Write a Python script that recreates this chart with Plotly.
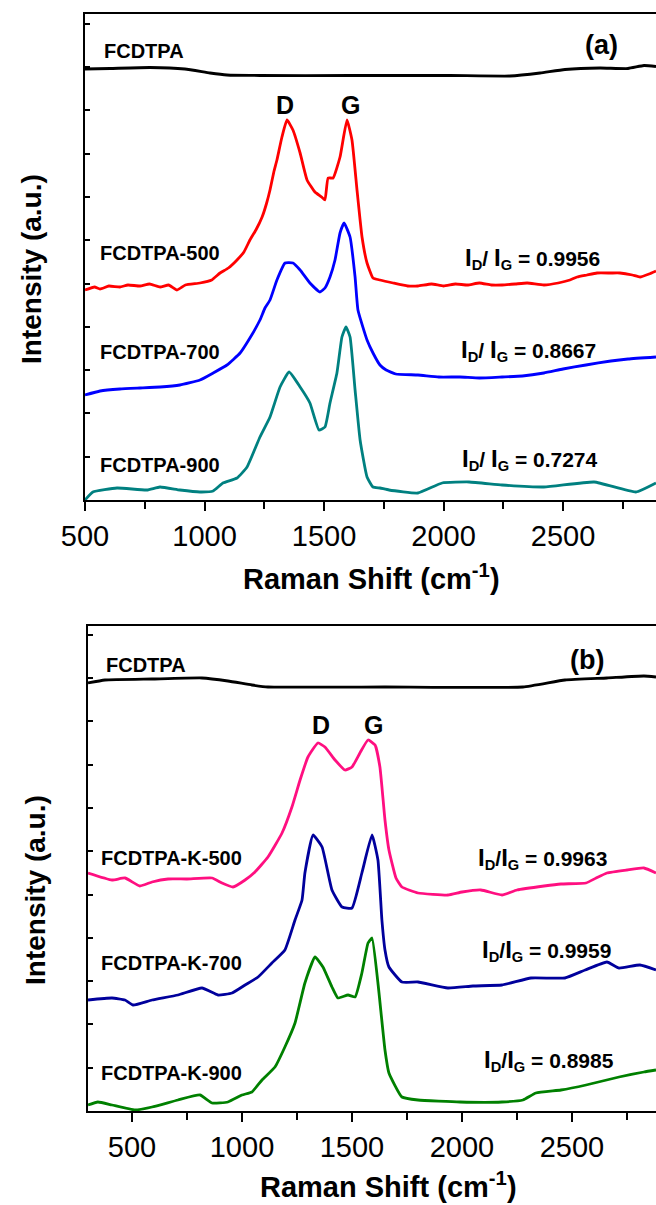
import plotly.graph_objects as go

W, H = 656, 1205

# ---------------- data (Raman shift cm^-1, intensity a.u.) ----------------
# Panel (a)
a_fcdtpa = [(500,431),(605,431.5),(772,432.5),(918,431),(1023,427),(1094,425),(1232,424.5),
            (1609,424.5),(2027,424.5),(2278,424),(2404,427),(2508,430.5),(2655,432),(2772,431.5),
            (2839,434.5),(2889,433.5)]
a_500 = [(500,210),(540,213),(563,211),(600,214),(646,213),(680,215),(730,214),(770,216),(814,213),
         (850,215),(885,210),(920,215),(981,217),(1030,220),(1065,227),(1100,232),(1136,240),(1165,248),
         (1190,260),(1215,270),(1241,283),(1260,297),(1274,310),(1290,328),(1303,340),(1324,363),
         (1345,380),(1370,370),(1400,347),(1429,320),(1462,308),(1490,303),(1504,300),(1517,322),
         (1538,322),(1567,343),(1596,380),(1617,360),(1638,310),(1659,263),(1680,237),(1705,222),
         (1734,220),(1789,217),(1850,214),(1893,214),(1950,216),(2000,214),(2050,216),(2100,215),
         (2150,217),(2200,215),(2245,215),(2300,216),(2350,217),(2420,215),(2480,217),(2529,220),
         (2559,223),(2600,225),(2642,227),(2700,227),(2738,227),(2790,225),(2822,223),(2860,226),(2889,229)]
a_700 = [(500,105),(563,109),(646,111),(730,112),(814,113),(897,115),(981,120),(1036,127),(1094,135),
         (1149,147),(1190,162),(1232,180),(1253,192),(1274,200),(1303,220),(1337,237),(1370,237),
         (1400,230),(1441,217),(1483,208),(1504,212),(1525,223),(1546,240),(1567,267),(1584,277),
         (1609,263),(1630,223),(1642,190),(1680,160),(1705,147),(1734,135),(1760,130),(1800,126),
         (1893,125),(1980,123),(2069,123),(2150,122),(2245,123),(2330,124),(2420,127),(2500,131),
         (2596,135),(2700,139),(2772,141),(2889,143)]
a_900 = [(500,0),(533,8),(634,12),(759,10),(814,13),(897,10),(981,8),(1036,9),(1077,17),(1136,22),
         (1178,33),(1232,63),(1274,83),(1316,113),(1354,128),(1400,113),(1441,97),(1479,70),(1504,73),
         (1525,97),(1554,127),(1575,163),(1592,173),(1609,163),(1630,110),(1651,60),(1680,23),(1705,13),
         (1734,12),(1772,10),(1893,7),(1994,17),(2107,18),(2245,15),(2420,13),(2630,18),(2805,8),(2889,17)]

# Panel (b)
b_fcdtpa = [(300,428),(377,431),(591,432),(818,433),(936,430),(1045,426),(1118,424),(1650,424),
            (2277,424),(2468,431),(2659,433),(2827,435),(2882,434)]
b_k500 = [(300,238),(409,231),(468,233),(536,225),(591,229),(664,232),(750,232),(864,233),(909,228),
          (959,224),(1014,231),(1059,239),(1118,254),(1182,278),(1227,304),(1264,331),(1300,354),
          (1345,368),(1377,364),(1423,351),(1468,341),(1500,344),(1536,358),(1573,371),(1605,366),
          (1627,344),(1650,291),(1668,261),(1700,233),(1727,224),(1800,218),(1936,216),(2000,219),
          (2086,221),(2182,216),(2250,221),(2373,225),(2450,227),(2564,228),(2610,233),(2659,238),
          (2750,241),(2827,243),(2882,238)]
b_k700 = [(300,111),(409,113),(468,111),(505,106),(591,111),(709,116),(818,123),(891,116),(955,118),
          (1014,126),(1073,134),(1136,148),(1195,161),(1241,191),(1273,211),(1286,238),(1323,276),
          (1364,264),(1409,221),(1455,204),(1500,203),(1545,238),(1591,276),(1618,251),(1636,191),
          (1650,161),(1668,144),(1727,129),(1800,129),(1936,123),(2050,125),(2182,126),(2314,133),
          (2468,133),(2560,141),(2659,149),(2714,143),(2809,146),(2882,141)]
b_k900 = [(300,6),(345,9),(409,6),(514,1),(591,4),(709,11),(809,16),(864,8),(936,9),(1000,16),
          (1045,19),(1091,31),(1150,44),(1195,64),(1241,88),(1286,128),(1332,154),(1368,144),(1409,124),
          (1436,113),(1482,116),(1514,114),(1545,138),(1573,168),(1591,173),(1618,128),(1650,61),
          (1668,38),(1727,14),(1800,11),(1991,9),(2182,9),(2277,11),(2336,18),(2450,21),(2564,26),
          (2714,34),(2827,39),(2882,41)]

x_ticks = [500, 1000, 1500, 2000, 2500]
ratios_a = ["0.9956", "0.8667", "0.7274"]
ratios_b = ["0.9963", "0.9959", "0.8985"]
names_a = ["FCDTPA-500", "FCDTPA-700", "FCDTPA-900"]
names_b = ["FCDTPA-K-500", "FCDTPA-K-700", "FCDTPA-K-900"]

FONT = "Liberation Sans, Arial, sans-serif"

def px(x):
    return x / W

def py(y):
    return 1 - y / H

fig = go.Figure()

def add(series, color, xa, ya):
    xs = [p[0] for p in series]
    ys = [p[1] for p in series]
    fig.add_trace(go.Scatter(x=xs, y=ys, mode="lines", xaxis=xa, yaxis=ya,
                             line=dict(color=color, width=2.8, shape="spline", smoothing=0.4),
                             showlegend=False, hoverinfo="skip"))

add(a_fcdtpa, "#000000", "x", "y")
add(a_500, "#FF0000", "x", "y")
add(a_700, "#0000FF", "x", "y")
add(a_900, "#008080", "x", "y")
add(b_fcdtpa, "#000000", "x2", "y2")
add(b_k500, "#FF0F80", "x2", "y2")
add(b_k700, "#00009C", "x2", "y2")
add(b_k900, "#008000", "x2", "y2")

xcommon = dict(showline=True, linecolor="black", linewidth=2, mirror=True,
               ticks="outside", ticklen=9, tickwidth=2, tickcolor="black",
               tickvals=x_ticks, ticktext=[str(t) for t in x_ticks],
               minor=dict(dtick=250, tick0=0, ticks="outside", ticklen=7, tickwidth=2, tickcolor="black"),
               tickfont=dict(family=FONT, size=29, color="black"),
               showgrid=False, zeroline=False, fixedrange=True, automargin=False)
ycommon = dict(showline=True, linecolor="black", linewidth=2, mirror=False,
               ticks="inside", ticklen=5, tickwidth=2, tickcolor="black",
               tick0=0, dtick=43.3, showticklabels=False,
               showgrid=False, zeroline=False, fixedrange=True, automargin=False)

fig.update_layout(
    width=W, height=H, margin=dict(l=0, r=0, t=0, b=0, pad=0, autoexpand=False),
    paper_bgcolor="white", plot_bgcolor="white",
    xaxis=dict(xcommon, domain=[px(85), 1.0], range=[500, 2889], anchor="y"),
    yaxis=dict(ycommon, domain=[py(500), py(14)], range=[0, 486], anchor="x"),
    xaxis2=dict(xcommon, domain=[px(88), 1.0], range=[300, 2882], anchor="y2"),
    yaxis2=dict(ycommon, domain=[py(1111), py(626)], range=[0, 485], anchor="x2"),
)

ann = []
def label(text, x, y, size=20, xanchor="left", bold=True, angle=0, yanchor="middle"):
    ann.append(dict(text=text, x=px(x), y=py(y), xref="paper", yref="paper",
                    xanchor=xanchor, yanchor=yanchor, showarrow=False, textangle=angle,
                    font=dict(family=FONT, size=size, color="black",
                              weight="bold" if bold else "normal")))

BIG_I = "<span style='font-size:24px'>I</span>"

# panel (a)
label("FCDTPA", 102, 51)
label("(a)", 601, 45, size=27, xanchor="center")
label("D", 285, 105, size=25, xanchor="center")
label("G", 350, 105, size=25, xanchor="center")
for n, yy in zip(names_a, [253, 352, 465]):
    label(n, 98, yy)
for r, xx, yy in zip(ratios_a, [463, 459, 460], [258, 350, 460]):
    label(BIG_I + "<sub>D</sub>/ " + BIG_I + "<sub>G</sub> = " + r, xx, yy, size=21)
label("Raman Shift (cm<sup>-1</sup>)", 372, 577, size=29, xanchor="center")
label("Intensity (a.u.)", 31, 269, size=28, xanchor="center", angle=-90)

# panel (b)
label("FCDTPA", 104, 665)
label("(b)", 587, 660, size=27, xanchor="center")
label("D", 321, 725, size=25, xanchor="center")
label("G", 373, 725, size=25, xanchor="center")
for n, yy in zip(names_b, [858, 963, 1073]):
    label(n, 99, yy)
for r, xx, yy in zip(ratios_b, [476, 480, 482], [858, 950, 1060]):
    label(BIG_I + "<sub>D</sub>/" + BIG_I + "<sub>G</sub> = " + r, xx, yy, size=21)
label("Raman Shift (cm<sup>-1</sup>)", 388, 1185, size=29, xanchor="center")
label("Intensity (a.u.)", 35, 890, size=28, xanchor="center", angle=-90)

fig.update_layout(annotations=ann)
fig.write_html("out.html")
